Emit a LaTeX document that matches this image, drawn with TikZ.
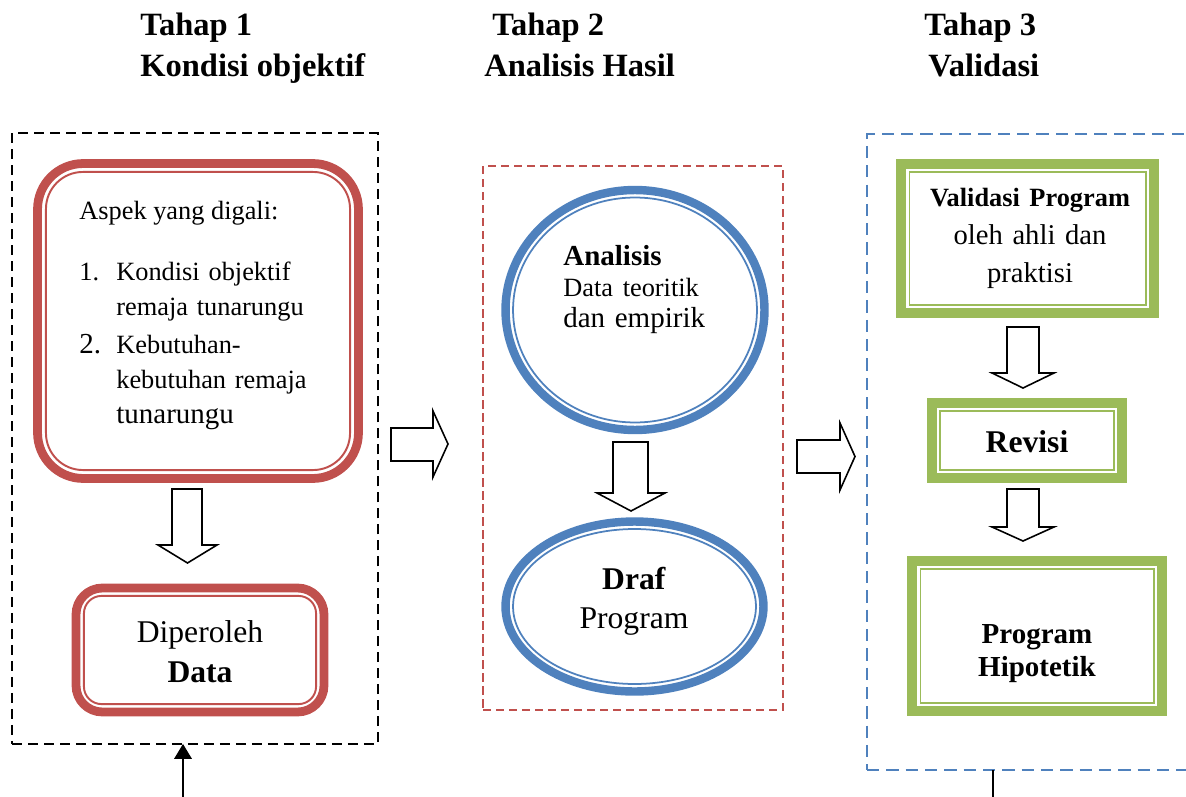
\documentclass[tikz,border=0pt]{standalone}
\usepackage{fontspec}
\setmainfont{Liberation Serif}
\usetikzlibrary{arrows.meta, shapes.geometric}

\definecolor{merah}{HTML}{C0504D}
\definecolor{biru}{HTML}{4F81BD}
\definecolor{hijau}{HTML}{9BBB59}

\tikzset{
  bingkai/.style={draw, rectangle, inner sep=0pt, outer sep=0pt},
  garissatu/.style={bingkai, line width=1.4pt, dash pattern=on 5.7pt off 3.4pt},
  garisdua/.style={bingkai, draw=merah, line width=1.2pt, dash pattern=on 4.6pt off 2.8pt},
  garistiga/.style={bingkai, draw=biru, line width=1.4pt, dash pattern=on 7pt off 4pt},
  kotakmerah/.style={bingkai, draw=merah, line width=5pt},
  merahtipis/.style={draw=merah, line width=1.1pt},
  lingkaran/.style={ellipse, draw=biru, line width=4.8pt, inner sep=0pt, outer sep=0pt},
  birutipis/.style={draw=biru, line width=1pt},
  kotakhijau/.style={bingkai, draw=hijau, line width=5.6pt},
  hijautipis/.style={draw=hijau, line width=1.1pt},
  panah/.style={draw, line width=0.9pt, fill=white, line join=miter},
  judul/.style={anchor=base west, inner sep=0pt, font=\fontsize{18.5}{22}\selectfont\bfseries},
  teks/.style={anchor=base west, inner sep=0pt, font=\fontsize{15}{20}\selectfont}
}

\begin{document}
\begin{tikzpicture}[x=0.02cm, y=-0.02cm]
\useasboundingbox (0,0) rectangle (1186,797);

% judul tiap tahap
\node[judul] (h1) at (140,36) {Tahap 1};
\node[judul] (h1b) at (140,77) {Kondisi objektif};
\node[judul] (h2) at (492,36) {Tahap 2};
\node[judul] (h2b) at (484,77) {Analisis Hasil};
\node[judul] (h3) at (924,36) {Tahap 3};
\node[judul] (h3b) at (928,77) {Validasi};

% Tahap 1: aspek yang digali dan data
\node[garissatu, minimum width=7.32cm, minimum height=12.22cm] (t1) at (195,438.5) {};
\node[kotakmerah, minimum width=6.42cm, minimum height=6.3cm, rounded corners=26pt] (aspek) at (198,321) {};
\draw[merahtipis, rounded corners=21pt] ([shift={(4.8pt,-4.8pt)}]aspek.north west) rectangle ([shift={(-4.8pt,4.8pt)}]aspek.south east);
\node[teks] (aspek-t) at (79,219) {Aspek yang digali:};
\node[teks] (no1) at (79,280) {1.};
\node[teks, text width=5cm, align=left] (item1) at (116,280) {Kondisi objektif\\remaja tunarungu};
\node[teks, font=\fontsize{16.5}{20}\selectfont] (no2) at (79,353) {2.};
\node[teks, text width=5cm, align=left] (item2) at (116,353) {Kebutuhan-\\kebutuhan remaja\\{\fontsize{16.5}{20}\selectfont tunarungu}};

% panah blok ke bawah
\draw[panah] (172,489) -- (202,489) -- (202,545) -- (217,545) -- (187.5,563) -- (158,545) -- (172,545) -- cycle;

\node[kotakmerah, minimum width=4.96cm, minimum height=2.48cm, rounded corners=15pt] (data) at (200,650) {};
\draw[merahtipis, rounded corners=10pt] ([shift={(4.5pt,-4.5pt)}]data.north west) rectangle ([shift={(-4.5pt,4.5pt)}]data.south east);
\node[teks, anchor=base, text width=4cm, align=center, font=\fontsize{18}{23.2}\selectfont] (data-t) at (200,642) {Diperoleh\\\textbf{Data}};

\coordinate (umpan1) at (183,797);
\draw[line width=0.9pt, -{Triangle[length=8.5pt, width=10pt]}] (umpan1) -- (umpan1 |- t1.south);

% panah blok ke kanan
\draw[panah] (391,428) -- (433,428) -- (433,411) -- (448,444) -- (433,477) -- (433,461) -- (391,461) -- cycle;

% Tahap 2: analisis hasil
\node[garisdua, minimum width=6cm, minimum height=10.88cm] (t2) at (633,438) {};
\node[lingkaran, minimum width=5.18cm, minimum height=4.8cm] (analisis) at (635,310) {};
\draw[birutipis] (analisis.center) ellipse [x radius=2.44cm, y radius=2.25cm];
\node[teks, text width=4cm, align=left, font=\fontsize{16.5}{17.8}\selectfont] (analisis-t) at (563,265)
  {\textbf{Analisis}\\{\fontsize{15}{17.8}\selectfont Data teoritik}\\dan empirik};

\draw[panah] (613,442) -- (648,442) -- (648,493) -- (665,493) -- (631,511) -- (597,493) -- (613,493) -- cycle;

\node[lingkaran, minimum width=5.16cm, minimum height=3.4cm] (draf) at (634.5,606.5) {};
\draw[birutipis] (draf.center) ellipse [x radius=2.43cm, y radius=1.55cm];
\node[teks, anchor=base, text width=3cm, align=center, font=\fontsize{18}{22.7}\selectfont] (draf-t) at (634,589)
  {\textbf{Draf}\\Program};

\draw[panah] (797,440) -- (840,440) -- (840,423) -- (855,456.5) -- (840,490) -- (840,473) -- (797,473) -- cycle;

% Tahap 3: validasi
\node[garistiga, minimum width=6.86cm, minimum height=12.72cm] (t3) at (1038.5,452) {};
\node[kotakhijau, minimum width=5.06cm, minimum height=2.98cm] (valid) at (1027.5,238.5) {};
\draw[hijautipis] ([shift={(4.8pt,-4.8pt)}]valid.north west) rectangle ([shift={(-4.8pt,4.8pt)}]valid.south east);
\node[teks, anchor=base, text width=4.8cm, align=center, font=\fontsize{16.3}{21.5}\selectfont] (valid-t) at (1030,207)
  {{\fontsize{15}{21.5}\selectfont\bfseries Validasi Program}\\oleh ahli dan\\praktisi};

\draw[panah] (1007,327) -- (1039,327) -- (1039,373) -- (1054,373) -- (1023,388) -- (992,373) -- (1007,373) -- cycle;

\node[kotakhijau, minimum width=3.8cm, minimum height=1.5cm] (revisi) at (1027,440.5) {};
\draw[hijautipis] ([shift={(4.8pt,-4.8pt)}]revisi.north west) rectangle ([shift={(-4.8pt,4.8pt)}]revisi.south east);
\node[teks, anchor=base, font=\fontsize{18}{22}\selectfont\bfseries] (revisi-t) at (1027,452) {Revisi};

\draw[panah] (1007,489) -- (1039,489) -- (1039,527) -- (1054,527) -- (1023,541) -- (992,527) -- (1007,527) -- cycle;

\node[kotakhijau, minimum width=5cm, minimum height=3cm] (hipotetik) at (1037,636) {};
\draw[hijautipis] ([shift={(4.8pt,-4.8pt)}]hipotetik.north west) rectangle ([shift={(-4.8pt,4.8pt)}]hipotetik.south east);
\node[teks, anchor=base, text width=4.5cm, align=center, font=\fontsize{16.5}{19.3}\selectfont\bfseries] (hipotetik-t) at (1037,643)
  {Program\\Hipotetik};

\coordinate (umpan3) at (993,797);
\draw[line width=0.8pt] (t3.south -| umpan3) -- (umpan3);
\end{tikzpicture}
\end{document}
